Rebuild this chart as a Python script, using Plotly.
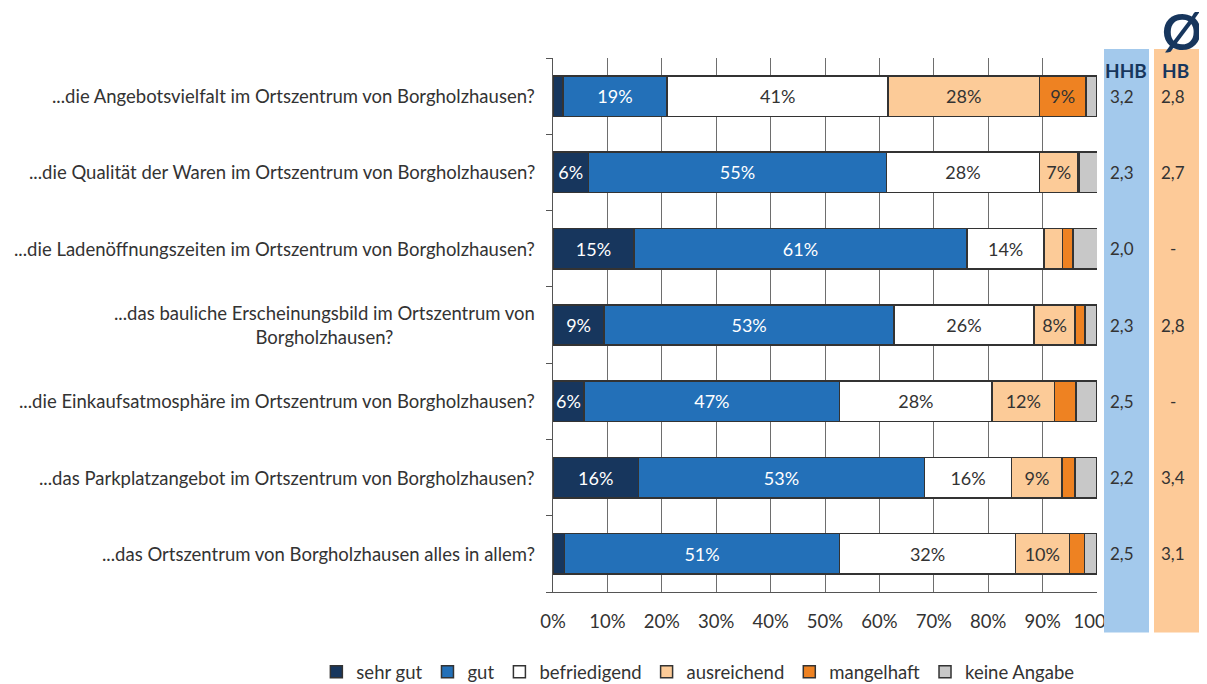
import plotly.graph_objects as go

# Questions (top to bottom)
questions = [
    "...die Angebotsvielfalt im Ortszentrum von Borgholzhausen?",
    "...die Qualität der Waren im Ortszentrum von Borgholzhausen?",
    "...die Ladenöffnungszeiten im Ortszentrum von Borgholzhausen?",
    "...das bauliche Erscheinungsbild im Ortszentrum von<br>Borgholzhausen?",
    "...die Einkaufsatmosphäre im Ortszentrum von Borgholzhausen?",
    "...das Parkplatzangebot im Ortszentrum von Borgholzhausen?",
    "...das Ortszentrum von Borgholzhausen alles in allem?",
]

# shares in percent per rating
sehr_gut = [1.8, 6.5, 14.9, 9.4, 5.7, 15.7, 2.1]
gut = [19.2, 54.8, 61.2, 53.3, 47.0, 52.6, 50.6]
befriedigend = [40.6, 28.1, 14.2, 25.7, 28.0, 16.0, 32.3]
ausreichend = [27.8, 7.1, 3.4, 7.6, 11.5, 9.3, 9.9]
mangelhaft = [8.6, 0.3, 1.9, 1.8, 3.9, 2.4, 2.8]
keine_angabe = [2.0, 3.3, 4.5, 2.2, 3.9, 4.0, 2.3]

# average grades
hhb_avg = ["3,2", "2,3", "2,0", "2,3", "2,5", "2,2", "2,5"]
hb_avg = ["2,8", "2,7", "-", "2,8", "-", "3,4", "3,1"]

series = [
    ("sehr gut", sehr_gut, "#17365d", "white"),
    ("gut", gut, "#2370b8", "white"),
    ("befriedigend", befriedigend, "#ffffff", "#333333"),
    ("ausreichend", ausreichend, "#fccb98", "#333333"),
    ("mangelhaft", mangelhaft, "#ee8222", "#333333"),
    ("keine Angabe", keine_angabe, "#c8c8c8", "#333333"),
]

FONT = "Lato, 'Noto Sans', sans-serif"

fig = go.Figure()

for name, vals, color, tcolor in series:
    labels = [f"{v:.0f}%" if v >= 5 else "" for v in vals]
    fig.add_trace(go.Bar(
        y=questions,
        x=vals,
        name=name,
        orientation='h',
        marker=dict(color=color, line=dict(color='#333333', width=1.5)),
        text=labels,
        textposition='inside',
        insidetextanchor='middle',
        textangle=0,
        insidetextfont=dict(color=tcolor, size=18, family=FONT),
        hoverinfo='skip',
    ))

# question labels as annotations (centred multi-line)
for q in questions:
    fig.add_annotation(
        x=0, xref='paper', y=q, yref='y',
        text=q, showarrow=False,
        xanchor='right', yanchor='middle', xshift=-16, align='center',
        font=dict(size=18.5, color='#333333', family=FONT),
    )

# average columns (drawn above the axis so the "%" of 100% is hidden)
fig.add_shape(type='rect', xref='paper', yref='paper',
              x0=1.0129, x1=1.0956, y0=-0.076, y1=1.017,
              fillcolor='#a3c9ec', line_width=0, layer='above')
fig.add_shape(type='rect', xref='paper', yref='paper',
              x0=1.1048, x1=1.1875, y0=-0.076, y1=1.017,
              fillcolor='#fdca98', line_width=0, layer='above')

for q, a, b in zip(questions, hhb_avg, hb_avg):
    fig.add_annotation(x=1.046, xref='paper', y=q, yref='y', text=a,
                       xanchor='center', yanchor='middle', showarrow=False,
                       font=dict(size=17, color='#333333', family=FONT))
    fig.add_annotation(x=1.140, xref='paper', y=q, yref='y', text=b,
                       xanchor='center', yanchor='middle', showarrow=False,
                       font=dict(size=17, color='#333333', family=FONT))

fig.add_annotation(x=1.054, xref='paper', y=0.9775, yref='paper', text="<b>HHB</b>",
                   xanchor='center', yanchor='middle', showarrow=False,
                   font=dict(size=19, color='#17365d', family=FONT))
fig.add_annotation(x=1.145, xref='paper', y=0.9775, yref='paper', text="<b>HB</b>",
                   xanchor='center', yanchor='middle', showarrow=False,
                   font=dict(size=19, color='#17365d', family=FONT))
fig.add_annotation(x=1.157, xref='paper', y=1.05, yref='paper', text="<b>Ø</b>",
                   xanchor='center', yanchor='middle', showarrow=False,
                   font=dict(size=50, color='#17365d', family=FONT))

# page body adds an 8px offset, so the figure is sized 8px smaller
fig.update_layout(
    barmode='stack',
    bargap=0.47,
    width=1199, height=676,
    margin=dict(l=545, r=110, t=50, b=92, autoexpand=False),
    plot_bgcolor='white',
    paper_bgcolor='white',
    font=dict(family=FONT, size=18, color='#333333'),
    legend=dict(
        orientation='h', x=-0.435, xanchor='left', y=-0.15, yanchor='middle',
        font=dict(size=18.5, color='#333333', family=FONT),
        traceorder='normal', itemwidth=30,
    ),
    # labels pushed down with invisible long ticks; visible short ticks on xaxis2
    xaxis=dict(
        range=[0, 100], dtick=10, ticksuffix='%',
        showgrid=True, gridcolor='#6e6e6e', gridwidth=1,
        showline=True, linecolor='#555555', linewidth=1,
        ticks='outside', ticklen=13, tickcolor='rgba(0,0,0,0)',
        tickfont=dict(size=18.5, color='#333333'),
        zeroline=False, fixedrange=True,
    ),
    xaxis2=dict(
        overlaying='x', anchor='y', side='bottom',
        range=[0, 100], dtick=10,
        showticklabels=False, showgrid=False, showline=False, zeroline=False,
        ticks='outside', ticklen=6, tickcolor='#555555',
    ),
    yaxis=dict(
        categoryorder='array', categoryarray=questions[::-1],
        showticklabels=False,
        showline=True, linecolor='#555555', linewidth=1,
        ticks='outside', ticklen=6, tickcolor='#555555',
        tickson='boundaries', showgrid=False,
    ),
)

fig.write_html("out.html")
